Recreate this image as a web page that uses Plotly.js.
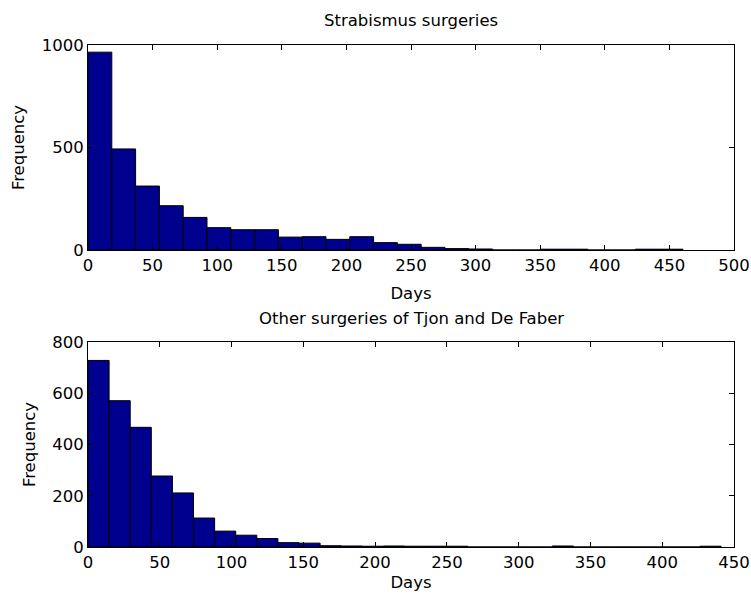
<!DOCTYPE html>
<html>
<head>
<meta charset="utf-8">
<script src="https://cdn.plot.ly/plotly-3.0.1.min.js"></script>
<style>
  html, body { margin: 0; padding: 0; background: #fff; }
  #chart { width: 751px; height: 595px; }
</style>
</head>
<body>
<div id="chart"></div>
<script>
// Histogram of waiting days, strabismus surgeries (25 equal bins)
const strabBinStart = 0;
const strabBinWidth = 18.42;
const strabCounts = [965, 493, 312, 216, 159, 109, 99, 99, 63, 65, 52, 65, 36, 28, 13, 7, 5, 0, 0, 4, 4, 0, 0, 4, 4];

// Histogram of waiting days, other surgeries (30 equal bins)
const otherBinStart = 0;
const otherBinWidth = 14.7;
const otherCounts = [728, 571, 467, 277, 211, 113, 62, 46, 33, 17, 15, 5, 4, 3, 4, 3, 3, 3, 0, 0, 0, 0, 4, 0, 0, 0, 0, 0, 0, 3];

const strabTicks = [0, 50, 100, 150, 200, 250, 300, 350, 400, 450, 500];
const otherTicks = [0, 50, 100, 150, 200, 250, 300, 350, 400, 450];
const strabYTicks = [0, 500, 1000];
const otherYTicks = [0, 200, 400, 600, 800];

function centers(start, width, n) {
  return Array.from({length: n}, (_, i) => start + width * (i + 0.5));
}

const barColor = 'rgb(0,0,143)';
const font = {family: 'DejaVu Sans, Liberation Sans, sans-serif', size: 16.5, color: '#000'};

const traces = [
  {
    type: 'bar',
    x: centers(strabBinStart, strabBinWidth, strabCounts.length),
    y: strabCounts,
    width: strabBinWidth,
    marker: {color: barColor, line: {color: '#000', width: 1}},
    xaxis: 'x', yaxis: 'y',
    hoverinfo: 'skip'
  },
  {
    type: 'bar',
    x: centers(otherBinStart, otherBinWidth, otherCounts.length),
    y: otherCounts,
    width: otherBinWidth,
    marker: {color: barColor, line: {color: '#000', width: 1}},
    xaxis: 'x2', yaxis: 'y2',
    hoverinfo: 'skip'
  }
];

const axisCommon = {
  showgrid: false,
  zeroline: false,
  showline: true,
  linecolor: '#000',
  linewidth: 1,
  mirror: 'allticks',
  ticks: 'inside',
  ticklen: 5,
  tickwidth: 1,
  tickcolor: '#000',
  tickfont: font,
  fixedrange: true
};

const layout = {
  width: 751,
  height: 595,
  paper_bgcolor: '#fff',
  plot_bgcolor: '#fff',
  showlegend: false,
  bargap: 0,
  font: font,
  margin: {l: 88, r: 17, t: 45, b: 48},
  xaxis: Object.assign({}, axisCommon, {
    domain: [0, 1], anchor: 'y', range: [0, 500],
    tickvals: strabTicks, ticktext: strabTicks.map(String),
    title: {text: 'Days', font: font, standoff: 13}
  }),
  yaxis: Object.assign({}, axisCommon, {
    domain: [0.5916, 1], anchor: 'x', range: [0, 1000],
    tickvals: strabYTicks, ticktext: strabYTicks.map(String),
    title: {text: 'Frequency', font: font, standoff: 12}
  }),
  xaxis2: Object.assign({}, axisCommon, {
    domain: [0, 1], anchor: 'y2', range: [0, 450],
    tickvals: otherTicks, ticktext: otherTicks.map(String),
    title: {text: 'Days', font: font, standoff: 5}
  }),
  yaxis2: Object.assign({}, axisCommon, {
    domain: [0, 0.4084], anchor: 'x2', range: [0, 800],
    tickvals: otherYTicks, ticktext: otherYTicks.map(String),
    title: {text: 'Frequency', font: font, standoff: 12}
  }),
  annotations: [
    {text: 'Strabismus surgeries', xref: 'x domain', yref: 'y domain',
     x: 0.5, y: 1, yshift: 13, xanchor: 'center', yanchor: 'bottom',
     showarrow: false, font: font},
    {text: 'Other surgeries of Tjon and De Faber', xref: 'x2 domain', yref: 'y2 domain',
     x: 0.5, y: 1, yshift: 12, xanchor: 'center', yanchor: 'bottom',
     showarrow: false, font: font}
  ]
};

Plotly.newPlot('chart', traces, layout, {staticPlot: true, displayModeBar: false});
</script>
</body>
</html>
